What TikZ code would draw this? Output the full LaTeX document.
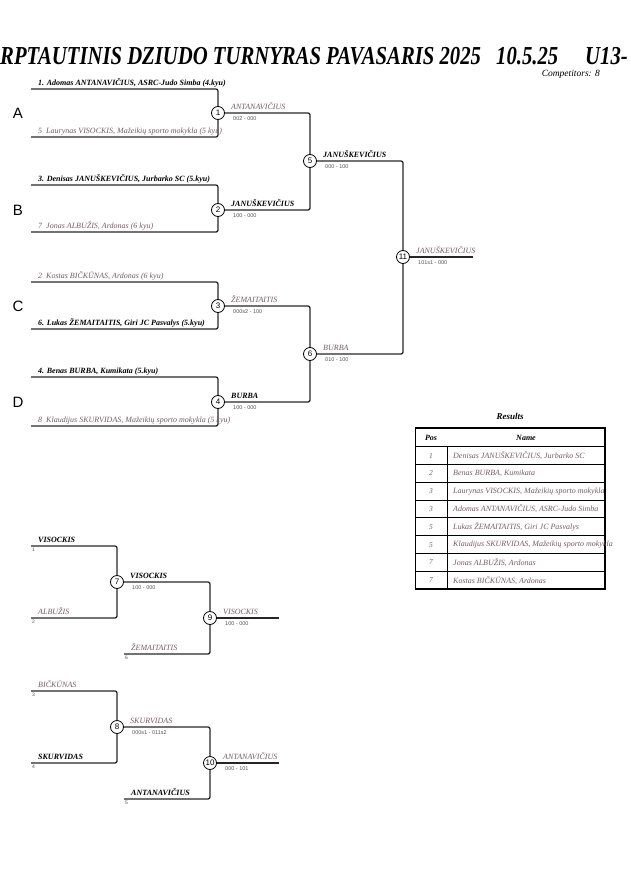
\documentclass[tikz,border=0pt]{standalone}
\usepackage{fontspec}
\setmainfont{Liberation Serif}
\setsansfont{Liberation Sans}
\usepackage{tikz}
\definecolor{lose}{RGB}{120,90,100}
\definecolor{score}{RGB}{85,85,85}
\newcommand\tsize[1]{\fontsize{#1}{#1}\selectfont}

\begin{document}
\begin{tikzpicture}[x=1pt,y=-1pt]
        \useasboundingbox (0,0) rectangle (630,891);

        % title
        \begin{scope}[every node/.style={anchor=base west,inner sep=0,font=\tsize{20.7}\bfseries\itshape}]
                \node (T1) at (0,65) {\scalebox{1}[1.25]{RPTAUTINIS DZIUDO TURNYRAS PAVASARIS 2025}};
                \node (T2) at (496,65) {\scalebox{1}[1.25]{10.5.25}};
                \node (T3) at (585,65) {\scalebox{1}[1.25]{U13-}};
        \end{scope}
        \node[anchor=base east,inner sep=0,font=\tsize{9.5}\itshape] (comp) at (600,77) {Competitors: 8};

        % pool letters
        \begin{scope}[every node/.style={font=\sffamily\tsize{15},inner sep=0}]
                \node (A) at (18,113) {A};
                \node (B) at (18,210) {B};
                \node (C) at (18,306) {C};
                \node (D) at (18,402) {D};
        \end{scope}

        % line starts
        \coordinate (p1) at (31,89);
        \coordinate (p5) at (31,137);
        \coordinate (p3) at (31,185);
        \coordinate (p7) at (31,232);
        \coordinate (p2) at (31,282);
        \coordinate (p6) at (31,329);
        \coordinate (p4) at (31,377);
        \coordinate (p8) at (31,426);
        \coordinate (e11) at (473,257);

        \coordinate (r1) at (31,546);
        \coordinate (r2) at (31,618);
        \coordinate (r6) at (124,654);
        \coordinate (r3) at (31,691);
        \coordinate (r4) at (31,763);
        \coordinate (r5) at (124,799);
        \coordinate (e9) at (279,618);
        \coordinate (e10) at (279,763);

        % contests
        \begin{scope}[every node/.style={draw,circle,fill=white,line width=0.8pt,minimum size=13pt,inner sep=0,font=\sffamily\tsize{8}}]
                \node (M1) at (218,113) {1};
                \node (M2) at (218,210) {2};
                \node (M3) at (218,306) {3};
                \node (M4) at (218,402) {4};
                \node (M5) at (310,161) {5};
                \node (M6) at (310,354) {6};
                \node (M11) at (403,257) {11};

                \node (M7) at (117,582) {7};
                \node (M8) at (117,727) {8};
                \node (M9) at (210,618) {9};
                \node (M10) at (210,763) {10};
        \end{scope}

        \begin{scope}[every path/.style={draw=black!85,line width=1.3pt,rounded corners=2pt}]
                \draw (p1) -| (M1);
                \draw (p5) -| (M1);
                \draw (p3) -| (M2);
                \draw (p7) -| (M2);
                \draw (p2) -| (M3);
                \draw (p6) -| (M3);
                \draw (p4) -| (M4);
                \draw (p8) -| (M4);
                \draw (M1) -| (M5);
                \draw (M2) -| (M5);
                \draw (M3) -| (M6);
                \draw (M4) -| (M6);
                \draw (M5) -| (M11);
                \draw (M6) -| (M11);
                \draw (M11) -- (e11);

                \draw (r1) -| (M7);
                \draw (r2) -| (M7);
                \draw (M7) -| (M9);
                \draw (r6) -| (M9);
                \draw (M9) -- (e9);
                \draw (r3) -| (M8);
                \draw (r4) -| (M8);
                \draw (M8) -| (M10);
                \draw (r5) -| (M10);
                \draw (M10) -- (e10);
        \end{scope}

        % names
        \begin{scope}[every node/.style={anchor=base west,inner sep=0,font=\tsize{8}\itshape},
                      win/.style={font=\tsize{8}\bfseries\itshape},
                      lost/.style={text=lose},
                      res/.style={font=\sffamily\tsize{5.5},text=score},
                      seed/.style={font=\sffamily\tsize{5},text=score}]
                \node[win] (n1) at ([shift={(7,-3.5)}]p1) {1. Adomas ANTANAVIČIUS, ASRC-Judo Simba (4.kyu)};
                \node[lost] (n5) at ([shift={(7,-3.5)}]p5) {5\ \ Laurynas VISOCKIS, Mažeikių sporto mokykla (5 kyu)};
                \node[win] (n3) at ([shift={(7,-3.5)}]p3) {3. Denisas JANUŠKEVIČIUS, Jurbarko SC (5.kyu)};
                \node[lost] (n7) at ([shift={(7,-3.5)}]p7) {7\ \ Jonas ALBUŽIS, Ardonas (6 kyu)};
                \node[lost] (n2) at ([shift={(7,-3.5)}]p2) {2\ \ Kostas BIČKŪNAS, Ardonas (6 kyu)};
                \node[win] (n6) at ([shift={(7,-3.5)}]p6) {6. Lukas ŽEMAITAITIS, Giri JC Pasvalys (5.kyu)};
                \node[win] (n4) at ([shift={(7,-3.5)}]p4) {4. Benas BURBA, Kumikata (5.kyu)};
                \node[lost] (n8) at ([shift={(7,-3.5)}]p8) {8\ \ Klaudijus SKURVIDAS, Mažeikių sporto mokykla (5 kyu)};

                \node[lost] (w1) at ([shift={(13,-4)}]M1) {ANTANAVIČIUS};
                \node[res] (s1) at ([shift={(15,7)}]M1) {002 - 000};
                \node[win] (w2) at ([shift={(13,-4)}]M2) {JANUŠKEVIČIUS};
                \node[res] (s2) at ([shift={(15,7)}]M2) {100 - 000};
                \node[lost] (w3) at ([shift={(13,-4)}]M3) {ŽEMAITAITIS};
                \node[res] (s3) at ([shift={(15,7)}]M3) {000s2 - 100};
                \node[win] (w4) at ([shift={(13,-4)}]M4) {BURBA};
                \node[res] (s4) at ([shift={(15,7)}]M4) {100 - 000};
                \node[win] (w5) at ([shift={(13,-4)}]M5) {JANUŠKEVIČIUS};
                \node[res] (s5) at ([shift={(15,7)}]M5) {000 - 100};
                \node[lost] (w6) at ([shift={(13,-4)}]M6) {BURBA};
                \node[res] (s6) at ([shift={(15,7)}]M6) {010 - 100};
                \node[lost] (w11) at ([shift={(13,-4)}]M11) {JANUŠKEVIČIUS};
                \node[res] (s11) at ([shift={(15,7)}]M11) {101s1 - 000};

                \node[win] (t1) at ([shift={(7,-3.5)}]r1) {VISOCKIS};
                \node[seed] (k1) at ([shift={(1,5.5)}]r1) {1};
                \node[lost] (t2) at ([shift={(7,-3.5)}]r2) {ALBUŽIS};
                \node[seed] (k2) at ([shift={(1,5.5)}]r2) {2};
                \node[lost] (t6) at ([shift={(7,-3.5)}]r6) {ŽEMAITAITIS};
                \node[seed] (k6) at ([shift={(1,5.5)}]r6) {6};
                \node[lost] (t3) at ([shift={(7,-3.5)}]r3) {BIČKŪNAS};
                \node[seed] (k3) at ([shift={(1,5.5)}]r3) {3};
                \node[win] (t4) at ([shift={(7,-3.5)}]r4) {SKURVIDAS};
                \node[seed] (k4) at ([shift={(1,5.5)}]r4) {4};
                \node[win] (t5) at ([shift={(7,-3.5)}]r5) {ANTANAVIČIUS};
                \node[seed] (k5) at ([shift={(1,5.5)}]r5) {5};

                \node[win] (w7) at ([shift={(13,-4)}]M7) {VISOCKIS};
                \node[res] (s7) at ([shift={(15,7)}]M7) {100 - 000};
                \node[lost] (w9) at ([shift={(13,-4)}]M9) {VISOCKIS};
                \node[res] (s9) at ([shift={(15,7)}]M9) {100 - 000};
                \node[lost] (w8) at ([shift={(13,-4)}]M8) {SKURVIDAS};
                \node[res] (s8) at ([shift={(15,7)}]M8) {000s1 - 011s2};
                \node[lost] (w10) at ([shift={(13,-4)}]M10) {ANTANAVIČIUS};
                \node[res] (s10) at ([shift={(15,7)}]M10) {000 - 101};
        \end{scope}

        % results table
        \node[font=\tsize{9}\bfseries\itshape,inner sep=0] (restitle) at (510,416) {Results};
        \draw[line width=1.6pt] (415.5,428) rectangle (605,589);
        \foreach \i in {0,...,7}
                \draw[line width=0.9pt] (415.5,446.7+17.8*\i) -- (605,446.7+17.8*\i);
        \draw[line width=0.9pt] (447,446.7) -- (447,589);
        \node[font=\tsize{8}\bfseries\itshape] (poshead) at (431,437.5) {Pos};
        \node[font=\tsize{8}\bfseries\itshape] (namehead) at (526,437.5) {Name};
        \foreach \p/\n [count=\i] in {1/{Denisas JANUŠKEVIČIUS, Jurbarko SC},
                2/{Benas BURBA, Kumikata},
                3/{Laurynas VISOCKIS, Mažeikių sporto mokykla},
                3/{Adomas ANTANAVIČIUS, ASRC-Judo Simba},
                5/{Lukas ŽEMAITAITIS, Giri JC Pasvalys},
                5/{Klaudijus SKURVIDAS, Mažeikių sporto mokykla},
                7/{Jonas ALBUŽIS, Ardonas},
                7/{Kostas BIČKŪNAS, Ardonas}}{
                \node[font=\tsize{7.5}\itshape,text=lose] (pos\i) at (431,437.8+17.8*\i) {\p};
                \node[anchor=west,inner sep=0,font=\tsize{8}\itshape,text=lose] (res\i) at (453,437.8+17.8*\i) {\n};
        }
\end{tikzpicture}
\end{document}
